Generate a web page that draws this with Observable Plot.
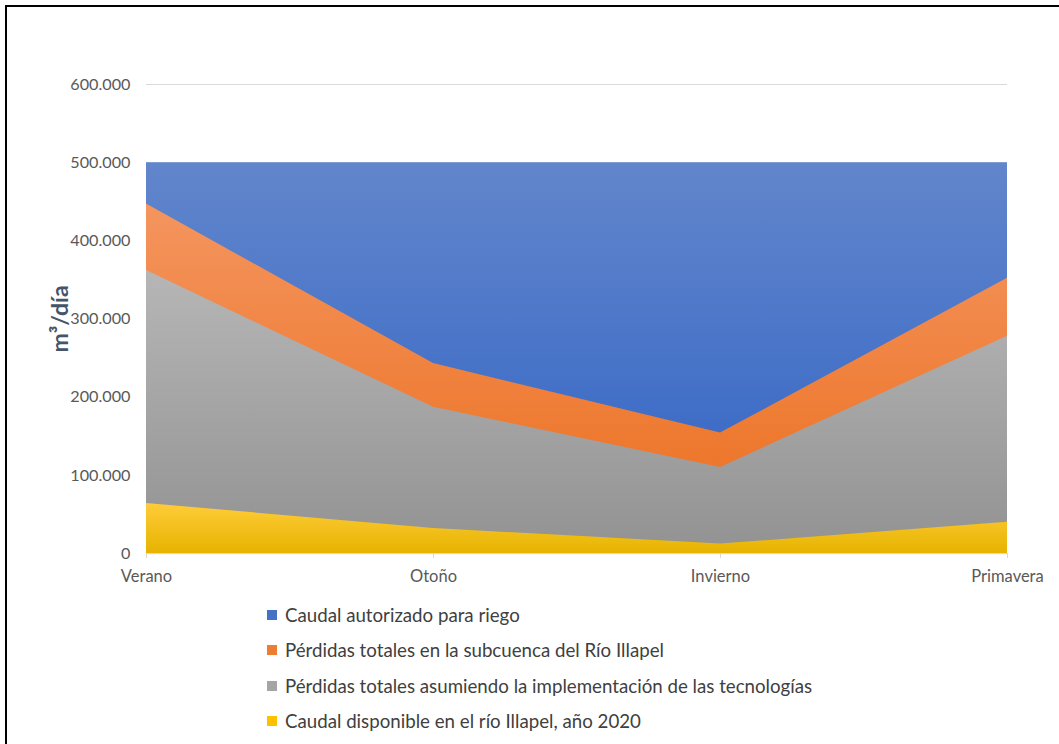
<!DOCTYPE html>
<html>
<head>
<meta charset="utf-8">
<script src="https://cdn.jsdelivr.net/npm/d3@7"></script>
<script src="https://cdn.jsdelivr.net/npm/@observablehq/plot@0.6"></script>
<style>
  html, body { margin: 0; padding: 0; background: #fff; }
  body { width: 1059px; height: 744px; overflow: hidden; position: relative; font-family: Lato, "Open Sans", sans-serif; }
  #frame { position: absolute; left: 5px; top: 5px; width: 1100px; height: 800px; border-left: 2px solid #000; border-top: 2px solid #000; pointer-events: none; z-index: 2; }
  #chart { position: absolute; left: 0; top: 0; }
  #legend { position: absolute; left: 267px; top: 597px; color: #404040; font-size: 18.7px; }
  .row { height: 35.5px; display: flex; align-items: center; }
  .sw { width: 10px; height: 10px; margin-right: 8px; }
</style>
</head>
<body>
<div id="frame"></div>
<div id="chart"></div>
<div id="legend"></div>
<script>
const seasons = ["Verano", "Otoño", "Invierno", "Primavera"];
const caudalAutorizado = [500000, 500000, 500000, 500000];
const perdidasSubcuenca = [447000, 243000, 154000, 352000];
const perdidasTecnologias = [362000, 187000, 110000, 278000];
const caudalDisponible = [64000, 32000, 12000, 40000];
const seriesNames = [
  "Caudal autorizado para riego",
  "Pérdidas totales en la subcuenca del Río Illapel",
  "Pérdidas totales asumiendo la implementación de las tecnologías",
  "Caudal disponible en el río Illapel, año 2020"
];
const yTicks = [0, 100000, 200000, 300000, 400000, 500000, 600000];
const yTitle = "m³/día";

const gradients = [
  {id: "gBlue", top: "#6286cc", bottom: "#2f62c4", swatch: "#4472c4"},
  {id: "gOrange", top: "#f4955f", bottom: "#eb6d1b", swatch: "#ed7d31"},
  {id: "gGray", top: "#b6b6b6", bottom: "#929292", swatch: "#a5a5a5"},
  {id: "gYellow", top: "#ffcc3a", bottom: "#e6b300", swatch: "#ffc000"}
];

const fmt = d3.formatLocale({decimal: ",", thousands: ".", grouping: [3], currency: ["", ""]}).format(",");

const defsMark = () => {
  const g = d3.create("svg:g");
  const defs = g.append("defs");
  for (const gr of gradients) {
    const lg = defs.append("linearGradient").attr("id", gr.id).attr("x1", 0).attr("y1", 0).attr("x2", 0).attr("y2", 1);
    lg.append("stop").attr("offset", "0%").attr("stop-color", gr.top);
    lg.append("stop").attr("offset", "100%").attr("stop-color", gr.bottom);
  }
  return g.node();
};

const series = [caudalAutorizado, perdidasSubcuenca, perdidasTecnologias, caudalDisponible];

const chart = Plot.plot({
  width: 1059,
  height: 595,
  marginLeft: 146,
  marginRight: 52,
  marginTop: 84,
  marginBottom: 42,
  style: {fontFamily: "Lato, 'Open Sans', sans-serif", background: "transparent"},
  x: {type: "point", domain: seasons, padding: 0},
  y: {domain: [0, 600000]},
  marks: [
    defsMark,
    Plot.gridY(yTicks.filter(d => d > 0), {stroke: "#d9d9d9", strokeOpacity: 1}),
    Plot.ruleY([0], {stroke: "#d9d9d9", strokeWidth: 1.5}),
    ...series.map((vals, k) => Plot.areaY(seasons, {
      x: d => d,
      y: (d, i) => vals[i],
      fill: `url(#${gradients[k].id})`,
      curve: "linear"
    })),
    Plot.axisY(yTicks, {tickSize: 0, tickPadding: 16, tickFormat: fmt, fill: "#595959", fontSize: 16.2, label: null}),
    Plot.axisX({tickSize: 5, tickPadding: 12, stroke: "#d9d9d9", fill: "#595959", fontSize: 16.5, label: null}),
    Plot.text([yTitle], {frameAnchor: "left", textAnchor: "middle", dx: -86, rotate: -90, fontSize: 23, fontWeight: "bold", fill: "#44546a"})
  ]
});
document.getElementById("chart").appendChild(chart);

const legend = d3.select("#legend");
seriesNames.forEach((name, k) => {
  const row = legend.append("div").attr("class", "row");
  row.append("div").attr("class", "sw").style("background", gradients[k].swatch);
  row.append("span").text(name);
});
</script>
</body>
</html>
